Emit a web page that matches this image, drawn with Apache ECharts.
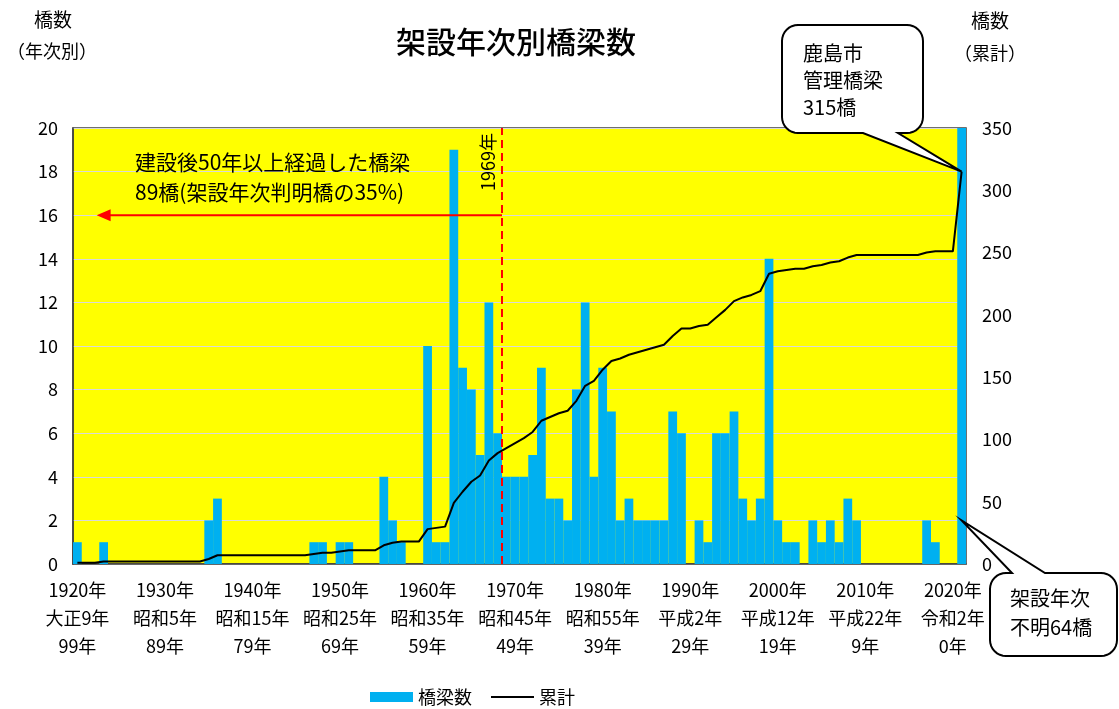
<!DOCTYPE html>
<html>
<head>
<meta charset="utf-8">
<script src="https://cdn.jsdelivr.net/npm/echarts@6/dist/echarts.min.js"></script>
<style>
  html, body { margin: 0; padding: 0; background: #fff; }
  #chart { width: 1119px; height: 709px; }
</style>
</head>
<body>
<div id="chart"></div>
<script>
// Bridges by year of construction (鹿島市 管理橋梁)
const firstYear = 1920;
const lastYear = 2020;
const unknownLabel = '不明';

// Years with at least one bridge built, and the number built that year
const builtYears = [
  1920, 1923, 1935, 1936, 1947, 1948, 1950, 1951, 1955, 1956, 1957,
  1960, 1961, 1962, 1963, 1964, 1965, 1966, 1967, 1968, 1969, 1970,
  1971, 1972, 1973, 1974, 1975, 1976, 1977, 1978, 1979, 1980, 1981,
  1982, 1983, 1984, 1985, 1986, 1987, 1988, 1989, 1991, 1992, 1993,
  1994, 1995, 1996, 1997, 1998, 1999, 2000, 2001, 2002, 2004, 2005,
  2006, 2007, 2008, 2009, 2017, 2018
];
const builtCounts = [
  1, 1, 2, 3, 1, 1, 1, 1, 4, 2, 1,
  10, 1, 1, 19, 9, 8, 5, 12, 6, 4, 4,
  4, 5, 9, 3, 3, 2, 8, 12, 4, 9, 7,
  2, 3, 2, 2, 2, 2, 7, 6, 2, 1, 6,
  6, 7, 3, 2, 3, 14, 2, 1, 1, 2, 1,
  2, 1, 3, 2, 2, 1
];
// Bridges whose construction year is not known
const unknownCount = 64;

// Decade tick labels: western year, era year, years elapsed
const decadeLabels = ['1920年', '1930年', '1940年', '1950年', '1960年', '1970年',
                      '1980年', '1990年', '2000年', '2010年', '2020年'];
const eraLabels = ['大正9年', '昭和5年', '昭和15年', '昭和25年', '昭和35年', '昭和45年',
                   '昭和55年', '平成2年', '平成12年', '平成22年', '令和2年'];
const ageLabels = ['99年', '89年', '79年', '69年', '59年', '49年',
                   '39年', '29年', '19年', '9年', '0年'];

// Bridges built before this year are 50+ years old
const cutoffYear = 1969;

// ---- build category axis and series from the tables above ----
const categories = [];
for (let y = firstYear; y <= lastYear; y++) categories.push(String(y));
categories.push(unknownLabel);

const counts = categories.map(() => 0);
builtYears.forEach((y, i) => { counts[y - firstYear] = builtCounts[i]; });
counts[categories.length - 1] = unknownCount;

const cumulative = [];
counts.reduce((sum, c) => { const s = sum + c; cumulative.push(s); return s; }, 0);

const cutoffIndex = cutoffYear - firstYear;   // left edge of the 1969 slot
const FONT = '"Noto Sans CJK JP", "Noto Sans", sans-serif';

const chart = echarts.init(document.getElementById('chart'), null, { renderer: 'canvas' });

const option = {
  animation: false,
  textStyle: { fontFamily: FONT, color: '#000' },
  grid: {
    left: 73, right: 153, top: 128, bottom: 145,
    show: true, backgroundColor: '#ffff00',
    borderColor: '#404040', borderWidth: 1.5
  },
  legend: {
    left: 370, top: 688, padding: 0,
    itemWidth: 43, itemHeight: 10, itemGap: 18,
    textStyle: { fontFamily: FONT, fontSize: 18, color: '#000' },
    data: [
      { name: '橋梁数', icon: 'rect' },
      { name: '累計', itemStyle: { opacity: 0 } }
    ]
  },
  xAxis: [
    {
      type: 'category',
      data: categories,
      boundaryGap: true,
      axisTick: { show: false },
      axisLine: { lineStyle: { color: '#404040', width: 1.5 } },
      axisLabel: {
        interval: (index) => index % 10 === 0 && index <= lastYear - firstYear,
        formatter: (value) => {
          const k = (Number(value) - firstYear) / 10;
          return decadeLabels[k] + '\n' + eraLabels[k] + '\n' + ageLabels[k];
        },
        fontFamily: FONT, fontSize: 18, lineHeight: 28, color: '#000', margin: 12
      },
      splitLine: { show: false }
    },
    {
      // plain numeric overlay of the same slots, used for the reference lines
      type: 'value', min: 0, max: categories.length, show: false
    }
  ],
  yAxis: [
    {
      type: 'value', min: 0, max: 20, interval: 2,
      axisLine: { show: true, lineStyle: { color: '#404040', width: 1.5 } },
      axisTick: { show: false },
      axisLabel: { fontFamily: FONT, fontSize: 18, color: '#000', margin: 15 },
      splitLine: { lineStyle: { color: '#d9d9d9', width: 1.2 } }
    },
    {
      type: 'value', min: 0, max: 350, interval: 50, position: 'right',
      axisLine: { show: false },
      axisTick: { show: false },
      axisLabel: { fontFamily: FONT, fontSize: 18, color: '#000', margin: 16 },
      splitLine: { show: false }
    }
  ],
  series: [
    {
      name: '橋梁数', type: 'bar',
      data: counts,
      barCategoryGap: '0%',
      clip: true,
      itemStyle: { color: '#00b0f0' }
    },
    {
      name: '累計', type: 'line', yAxisIndex: 1,
      data: cumulative,
      symbol: 'none',
      color: '#000',
      lineStyle: { color: '#000', width: 2 },
      z: 4
    },
    {
      // 50-year boundary
      type: 'line', xAxisIndex: 1, yAxisIndex: 0,
      data: [[cutoffIndex, 0], [cutoffIndex, 20]],
      symbol: 'none', silent: true,
      lineStyle: { color: '#ff0000', width: 2, type: [8, 5] },
      z: 5
    },
    {
      // arrow pointing to the older bridges
      type: 'line', xAxisIndex: 1, yAxisIndex: 0,
      data: [
        [cutoffIndex, 16],
        { value: [3.5, 16], symbol: 'triangle', symbolSize: [12, 14], symbolRotate: 90 }
      ],
      symbol: 'none', showSymbol: true, silent: true,
      itemStyle: { color: '#ff0000' },
      lineStyle: { color: '#ff0000', width: 2 },
      z: 5
    }
  ]
};

chart.setOption(option);

// rounded speech-bubble outline with a pointed tail on the top or bottom edge
function calloutPoints(x, y, w, h, r, side, a, b, tip) {
  const pts = [];
  const arc = (cx, cy, a0, a1) => {
    for (let i = 0; i <= 8; i++) {
      const t = a0 + (a1 - a0) * i / 8;
      pts.push([cx + r * Math.cos(t), cy + r * Math.sin(t)]);
    }
  };
  arc(x + r, y + r, Math.PI, 1.5 * Math.PI);
  if (side === 'top') pts.push([a, y], tip, [b, y]);
  arc(x + w - r, y + r, 1.5 * Math.PI, 2 * Math.PI);
  arc(x + w - r, y + h - r, 0, 0.5 * Math.PI);
  if (side === 'bottom') pts.push([b, y + h], tip, [a, y + h]);
  arc(x + r, y + h - r, 0.5 * Math.PI, Math.PI);
  return pts;
}

const last = categories.length - 1;
const totalTip = chart.convertToPixel({ seriesIndex: 1 }, [last, cumulative[last]]);
const unknownTip = chart.convertToPixel({ seriesIndex: 0 }, [last, 2]);

const bubbleStyle = { fill: '#fff', stroke: '#000', lineWidth: 2 };

chart.setOption({
  graphic: [
    { type: 'text', x: 516, y: 42,
      style: { text: '架設年次別橋梁数', font: '500 30px ' + FONT, fill: '#000',
               align: 'center', verticalAlign: 'middle' } },
    { type: 'text', x: 53, y: 20,
      style: { text: '橋数', font: '19px ' + FONT, fill: '#000', align: 'center', verticalAlign: 'middle' } },
    { type: 'text', x: 52, y: 51,
      style: { text: '（年次別）', font: '18px ' + FONT, fill: '#000', align: 'center', verticalAlign: 'middle' } },
    { type: 'text', x: 990, y: 21,
      style: { text: '橋数', font: '19px ' + FONT, fill: '#000', align: 'center', verticalAlign: 'middle' } },
    { type: 'text', x: 990, y: 53,
      style: { text: '（累計）', font: '18px ' + FONT, fill: '#000', align: 'center', verticalAlign: 'middle' } },
    { type: 'text', x: 135, y: 147, z: 20,
      style: { text: '建設後50年以上経過した橋梁\n89橋(架設年次判明橋の35%)',
               font: '21px ' + FONT, lineHeight: 30, fill: '#000' } },
    { type: 'text', x: 488, y: 162, rotation: Math.PI / 2, z: 20,
      style: { text: cutoffYear + '年', font: '18px ' + FONT, fill: '#000',
               align: 'center', verticalAlign: 'middle' } },
    { type: 'polygon', z: 30,
      shape: { points: calloutPoints(782, 25, 141, 108, 16, 'bottom', 863, 898, totalTip) },
      style: bubbleStyle },
    { type: 'text', x: 803, y: 40, z: 31,
      style: { text: '鹿島市\n管理橋梁\n' + cumulative[last] + '橋', font: '20px ' + FONT,
               lineHeight: 27, fill: '#000' } },
    { type: 'polygon', z: 30,
      shape: { points: calloutPoints(990, 573, 127, 83, 16, 'top', 1012, 1045, unknownTip) },
      style: bubbleStyle },
    { type: 'text', x: 1010, y: 584, z: 31,
      style: { text: '架設年次\n不明' + unknownCount + '橋', font: '20px ' + FONT,
               lineHeight: 29, fill: '#000' } }
  ]
});
</script>
</body>
</html>
